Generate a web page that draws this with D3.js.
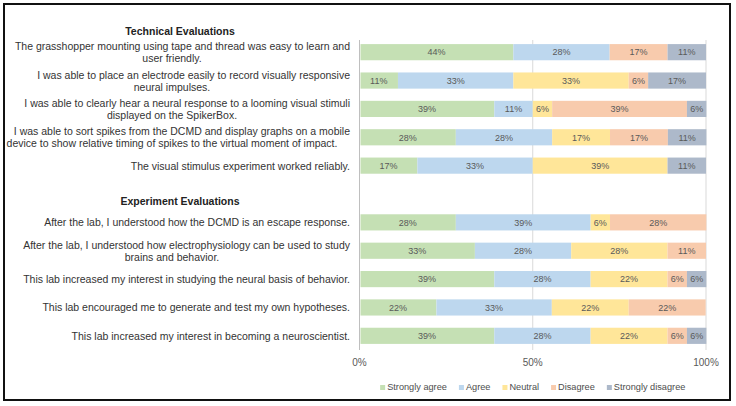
<!DOCTYPE html>
<html lang="en">
  <head>
    <meta charset="UTF-8" />
    <title>Lab evaluations</title>
    <style>
      body { margin: 0; background: #fff; }
      text { font-family: "Liberation Sans", Arial, sans-serif; }
    </style>
  </head>
  <body>
    <svg></svg>
    <script src="https://cdnjs.cloudflare.com/ajax/libs/d3/7.8.5/d3.min.js"></script>
    <script>
      // survey statements (line breaks as in the figure), "" = spacer row
      const categories = [
        "The grasshopper mounting using tape and thread was easy to learn and\nuser friendly.",
        "I was able to place an electrode easily to record visually responsive\nneural impulses.",
        "I was able to clearly hear a neural response to a looming visual stimuli\ndisplayed on the SpikerBox.",
        "I was able to sort spikes from the DCMD and display graphs on a mobile\ndevice to show relative timing of spikes to the virtual moment of impact.",
        "The visual stimulus experiment worked reliably.",
        "",
        "After the lab, I understood how the DCMD is an escape response.",
        "After the lab, I understood how electrophysiology can be used to study\nbrains and behavior.",
        "This lab increased my interest in studying the neural basis of behavior.",
        "This lab encouraged me to generate and test my own hypotheses.",
        "This lab increased my interest in becoming a neuroscientist."
      ];
      const headings = ["Technical Evaluations", "Experiment Evaluations"];
      const headingRows = [0, 6];

      const responses = ["Strongly agree", "Agree", "Neutral", "Disagree", "Strongly disagree"];
      const colors = ["#c5e0b4", "#bdd7ee", "#ffe699", "#f8cbad", "#adb9ca"];

      // percent of students per response (one value per category row)
      const stronglyAgree    = [44.4, 11.1, 38.9, 27.8, 16.7, null, 27.8, 33.3, 38.9, 22.2, 38.9];
      const agree            = [27.8, 33.3, 11.1, 27.8, 33.3, null, 38.9, 27.8, 27.8, 33.3, 27.8];
      const neutral          = [0, 33.3, 5.6, 16.7, 38.9, null, 5.6, 27.8, 22.2, 22.2, 22.2];
      const disagree         = [16.7, 5.6, 38.9, 16.7, 0, null, 27.8, 11.1, 5.6, 22.2, 5.6];
      const stronglyDisagree = [11.1, 16.7, 5.6, 11.1, 11.1, null, 0, 0, 5.6, 0, 5.6];
      const series = [stronglyAgree, agree, neutral, disagree, stronglyDisagree];

      const xTicks = [0, 50, 100];

      const W = 736, H = 406;
      const svg = d3.select("svg").attr("width", W).attr("height", H);

      svg.append("rect")
        .attr("x", 4).attr("y", 4)
        .attr("width", 726).attr("height", 396)
        .attr("fill", "#fff")
        .attr("stroke", "#111")
        .attr("stroke-width", 2);

      const x = d3.scaleLinear().domain([0, 100]).range([359.5, 706]);
      const y = d3.scaleBand()
        .domain(d3.range(categories.length))
        .range([38, 350])
        .paddingInner(0.43)
        .paddingOuter(0.215);

      // gridlines
      svg.append("g")
        .selectAll("line")
        .data(xTicks)
        .join("line")
        .attr("x1", (d) => x(d)).attr("x2", (d) => x(d))
        .attr("y1", 40).attr("y2", 350)
        .attr("stroke", (d) => (d === 0 ? "#bfbfbf" : "#d9d9d9"))
        .attr("stroke-width", 1);

      // stacked rows
      const rows = categories.map((c, i) => {
        let acc = 0;
        return series.map((s, k) => {
          const v = s[i] || 0;
          const seg = { row: i, k: k, x0: acc, x1: acc + v, v: v };
          acc += v;
          return seg;
        });
      }).filter((r, i) => categories[i] !== "");

      const segs = rows.flat().filter((d) => d.v > 0);

      svg.append("g")
        .selectAll("rect")
        .data(segs)
        .join("rect")
        .attr("x", (d) => x(d.x0) + (d.x0 === 0 ? 1 : 0))
        .attr("width", (d) => x(d.x1) - x(d.x0) - (d.x0 === 0 ? 1 : 0))
        .attr("y", (d) => y(d.row))
        .attr("height", y.bandwidth())
        .attr("fill", (d) => colors[d.k]);

      svg.append("g")
        .selectAll("text")
        .data(segs)
        .join("text")
        .attr("x", (d) => x((d.x0 + d.x1) / 2))
        .attr("y", (d) => y(d.row) + y.bandwidth() / 2 + 3.3)
        .attr("text-anchor", "middle")
        .attr("font-size", 9)
        .attr("fill", "#595959")
        .text((d) => Math.round(d.v) + "%");

      // category labels
      const lab = svg.append("g");
      categories.forEach((c, i) => {
        if (!c) return;
        const lines = c.split("\n");
        const cy = y(i) + y.bandwidth() / 2;
        lines.forEach((ln, j) => {
          const yy = cy + 4 + (j - (lines.length - 1) / 2) * 12;
          lab.append("text")
            .attr("x", j === 0 ? 350 : 172)
            .attr("y", yy)
            .attr("text-anchor", j === 0 ? "end" : "middle")
            .attr("font-size", 10.5)
            .attr("fill", "#333")
            .text(ln);
        });
      });

      // section headings
      svg.append("g")
        .selectAll("text")
        .data(headings)
        .join("text")
        .attr("x", 180)
        .attr("y", (d, i) => y(headingRows[i]) + y.bandwidth() / 2 - 17)
        .attr("text-anchor", "middle")
        .attr("font-size", 10.5)
        .attr("font-weight", "bold")
        .attr("fill", "#222")
        .text((d) => d);

      // x axis labels
      svg.append("g")
        .selectAll("text")
        .data(xTicks)
        .join("text")
        .attr("x", (d) => x(d))
        .attr("y", 366)
        .attr("text-anchor", "middle")
        .attr("font-size", 10)
        .attr("fill", "#595959")
        .text((d) => d + "%");

      // legend, centred under the plot
      const legend = svg.append("g");
      const items = responses.map((r, k) => {
        const g = legend.append("g");
        g.append("rect")
          .attr("width", 5).attr("height", 5)
          .attr("y", -5)
          .attr("fill", colors[k]);
        const t = g.append("text")
          .attr("x", 7)
          .attr("font-size", 9.2)
          .attr("fill", "#4d4d4d")
          .text(r);
        return { g: g, w: 7 + t.node().getComputedTextLength() };
      });
      const gap = 12;
      const total = d3.sum(items, (d) => d.w) + gap * (items.length - 1);
      let lx = (x(0) + x(100)) / 2 - total / 2;
      items.forEach((it) => {
        it.g.attr("transform", "translate(" + [lx, 390] + ")");
        lx += it.w + gap;
      });
    </script>
  </body>
</html>
